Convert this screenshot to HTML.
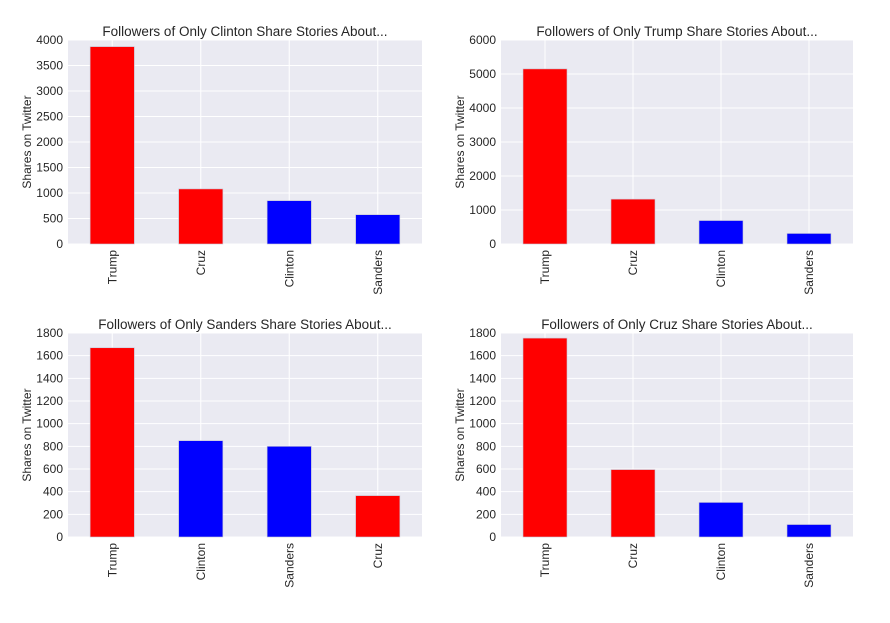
<!DOCTYPE html>
<html><head><meta charset="utf-8"><style>
body{margin:0;background:#fff;width:890px;height:618px;overflow:hidden;font-family:"Liberation Sans",sans-serif}
svg text{font-family:"Liberation Sans",sans-serif;fill:#262626}
</style></head><body>
<svg id="c" width="890" height="618">
</svg>
<script>
const titles=["Followers of Only Clinton Share Stories About...","Followers of Only Trump Share Stories About...","Followers of Only Sanders Share Stories About...","Followers of Only Cruz Share Stories About..."];
const cats1=["Trump","Cruz","Clinton","Sanders"];
const cats2=["Trump","Cruz","Clinton","Sanders"];
const cats3=["Trump","Clinton","Sanders","Cruz"];
const cats4=["Trump","Cruz","Clinton","Sanders"];
const vals1=[3870,1080,850,575];
const vals2=[5150,1320,690,310];
const vals3=[1670,850,800,365];
const vals4=[1755,595,305,110];
const ticks1=[0,500,1000,1500,2000,2500,3000,3500,4000];
const ticks2=[0,1000,2000,3000,4000,5000,6000];
const ticks3=[0,200,400,600,800,1000,1200,1400,1600,1800];
const ticks4=[0,200,400,600,800,1000,1200,1400,1600,1800];
const panels=[
 {cats:cats1,vals:vals1,ticks:ticks1,x0:68,x1:422,y0:40,y1:244},
 {cats:cats2,vals:vals2,ticks:ticks2,x0:501,x1:853,y0:40,y1:244},
 {cats:cats3,vals:vals3,ticks:ticks3,x0:68,x1:422,y0:333,y1:537},
 {cats:cats4,vals:vals4,ticks:ticks4,x0:501,x1:853,y0:333,y1:537}];
const red=["Trump","Cruz"];
const svg=document.getElementById('c');
const NS="http://www.w3.org/2000/svg";
function mk(t,a,txt){const e=document.createElementNS(NS,t);for(const k in a)e.setAttribute(k,a[k]);if(txt!=null)e.textContent=txt;svg.appendChild(e);return e;}
panels.forEach((p,i)=>{
 const max=p.ticks[p.ticks.length-1];
 const y=v=>p.y1-(v/max)*(p.y1-p.y0);
 const step=(p.x1-p.x0)/p.cats.length;
 const x=j=>p.x0+step*(j+0.5);
 let e=mk('rect',{x:p.x0,y:p.y0,width:p.x1-p.x0,height:p.y1-p.y0,fill:'#eaeaf2'});
 
 
 p.ticks.forEach(t=>{
  e=mk('line',{x1:p.x0,x2:p.x1,y1:y(t),y2:y(t),stroke:'#fff','stroke-width':1});
  
  
  e=mk('text',{x:p.x0-5,y:y(t)+4,'text-anchor':'end','font-size':12},t);
  
  
 });
 p.cats.forEach((c,j)=>{
  e=mk('line',{x1:x(j),x2:x(j),y1:p.y0,y2:p.y1,stroke:'#fff','stroke-width':1});
  
  
 });
 p.cats.forEach((c,j)=>{
  const bw=step*0.5;
  e=mk('rect',{x:x(j)-bw/2,y:y(p.vals[j]),width:bw,height:p.y1-y(p.vals[j]),fill:red.includes(c)?'#ff0000':'#0000ff',stroke:'#c8c8d8','stroke-width':0.6});
  
  
  e=mk('text',{x:0,y:0,'text-anchor':'end','font-size':12,transform:`translate(${x(j)+4},${p.y1+6}) rotate(-90)`},c);
  
  
 });
 e=mk('text',{x:(p.x0+p.x1)/2,y:p.y0-4,'text-anchor':'middle','font-size':13.5},titles[i]);
 
 
 e=mk('text',{x:0,y:0,'text-anchor':'middle','font-size':12,transform:`translate(${p.x0-37},${(p.y0+p.y1)/2}) rotate(-90)`},'Shares on Twitter');
 
 
});
</script>
</body></html>
